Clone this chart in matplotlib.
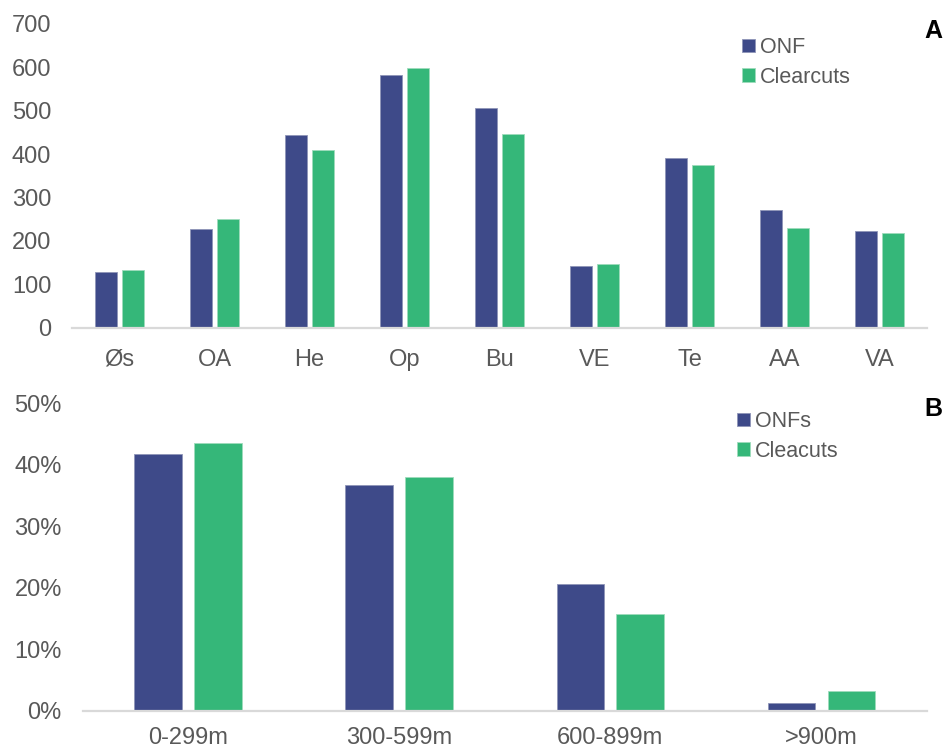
import numpy as np
import matplotlib
matplotlib.use('Agg')
from matplotlib import pyplot as plt
from matplotlib.ticker import PercentFormatter

# forest type counts
types = ['Øs', 'OA', 'He', 'Op', 'Bu', 'VE', 'Te', 'AA', 'VA']
onf_counts = [129, 228, 443, 581, 506, 142, 390, 272, 223]
clearcut_counts = [133, 250, 410, 597, 446, 148, 375, 229, 218]

# share by altitude band
bands = ['0-299m', '300-599m', '600-899m', '>900m']
onf_share = [0.417, 0.367, 0.206, 0.0125]
clearcut_share = [0.435, 0.380, 0.157, 0.032]

BLUE = '#3e4a89'
GREEN = '#35b779'
GREY_TXT = '#595959'
AXIS_LINE = '#d9d9d9'

plt.rcParams['font.family'] = ['Liberation Sans', 'DejaVu Sans']

fig = plt.figure(figsize=(9.43, 7.49), dpi=100)
ax_a = fig.add_axes([0.0764, 0.5621, 0.9066, 0.4065])
ax_b = fig.add_axes([0.0877, 0.0511, 0.8953, 0.4105])


def grouped_bars(ax, cats, s1, s2, width, gap, xpad):
    x = np.arange(len(cats))
    off = (width + gap) / 2
    b1 = ax.bar(x - off, s1, width, color=BLUE, edgecolor='#8f95b8', linewidth=0.6)
    b2 = ax.bar(x + off, s2, width, color=GREEN, edgecolor='#9edcbc', linewidth=0.6)
    ax.set_xticks(x)
    ax.set_xticklabels(cats)
    ax.set_xlim(-0.5, len(cats) - 0.5)
    for side in ('top', 'right', 'left'):
        ax.spines[side].set_visible(False)
    ax.spines['bottom'].set_color(AXIS_LINE)
    ax.spines['bottom'].set_linewidth(1.6)
    ax.tick_params(axis='both', length=0, labelsize=17, colors=GREY_TXT)
    ax.tick_params(axis='y', pad=15)
    ax.tick_params(axis='x', pad=xpad)
    return b1, b2


b1, b2 = grouped_bars(ax_a, types, onf_counts, clearcut_counts, 0.23, 0.055, 15)
ax_a.set_ylim(0, 700)
ax_a.set_yticks(np.arange(0, 701, 100))
ax_a.legend([b1, b2], ['ONF', 'Clearcuts'], loc='upper left',
            bbox_to_anchor=(727 / 943, 1 - 22 / 749), bbox_transform=fig.transFigure,
            frameon=False, fontsize=15.5, labelcolor=GREY_TXT,
            handlelength=0.6, handleheight=0.6, handletextpad=0.25,
            labelspacing=0.4, borderpad=0.2)

c1, c2 = grouped_bars(ax_b, bands, onf_share, clearcut_share, 0.226, 0.058, 12)
ax_b.set_ylim(0, 0.5)
ax_b.set_yticks(np.arange(0, 0.51, 0.1))
ax_b.yaxis.set_major_formatter(PercentFormatter(1.0, decimals=0))
ax_b.legend([c1, c2], ['ONFs', 'Cleacuts'], loc='upper left',
            bbox_to_anchor=(722 / 943, 1 - 396 / 749), bbox_transform=fig.transFigure,
            frameon=False, fontsize=15.5, labelcolor=GREY_TXT,
            handlelength=0.6, handleheight=0.6, handletextpad=0.25,
            labelspacing=0.4, borderpad=0.2)

fig.text(0.999, 1 - 31 / 749, 'A', fontsize=18, fontweight='bold', ha='right', va='center')
fig.text(0.999, 1 - 409 / 749, 'B', fontsize=18, fontweight='bold', ha='right', va='center')

fig.savefig('out.png', dpi=100)
